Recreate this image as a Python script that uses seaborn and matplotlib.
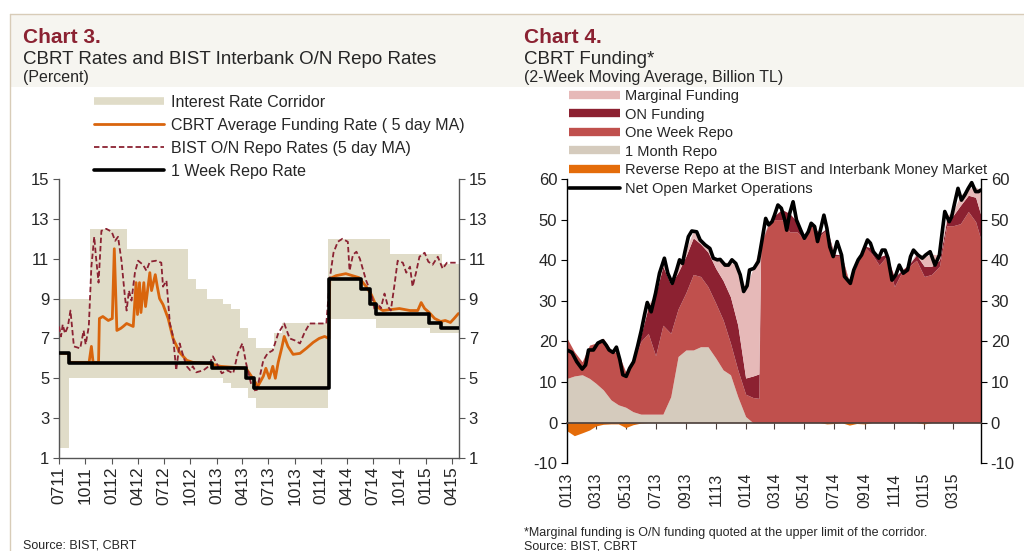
import matplotlib
matplotlib.use('Agg')
import matplotlib.pyplot as plt
import matplotlib.dates as mdates
from matplotlib.lines import Line2D
from matplotlib.patches import Rectangle
import seaborn as sns
import pandas as pd

sns.set_theme(style='white')
plt.rcParams['font.family'] = ['Liberation Sans', 'DejaVu Sans']
plt.rcParams['axes.unicode_minus'] = False

# ---------------- Chart 3 data (percent) ----------------
corr_dates = ['2011-07-01', '2011-08-05', '2011-10-16', '2012-02-24', '2012-09-24', '2012-10-22',
              '2012-11-28', '2013-01-23', '2013-02-22', '2013-03-22', '2013-04-19', '2013-05-19',
              '2013-07-22', '2013-08-16', '2014-01-25', '2014-07-13', '2014-08-28', '2015-01-16',
              '2015-02-28', '2015-04-27']
corr_upper = [9.0, 9.0, 12.5, 11.5, 10.0, 9.5, 9.0, 8.75, 8.5, 7.5, 7.0, 6.5, 7.25, 7.75,
              12.0, 12.0, 11.25, 11.25, 10.75, 10.75]
corr_lower = [1.5, 5.0, 5.0, 5.0, 5.0, 5.0, 5.0, 4.75, 4.5, 4.5, 4.0, 3.5, 3.5, 3.5,
              8.0, 7.5, 7.5, 7.25, 7.25, 7.25]

repo_dates = ['2011-07-01', '2011-08-05', '2012-12-16', '2013-04-14', '2013-05-13', '2014-01-28',
              '2014-05-19', '2014-06-19', '2014-07-13', '2015-01-13', '2015-02-22', '2015-04-27']
repo_rate = [6.25, 5.75, 5.5, 5.0, 4.5, 10.0, 9.5, 8.75, 8.25, 7.75, 7.5, 7.5]

fund_dates = ['2011-07-01', '2011-08-04', '2011-08-06', '2011-10-14', '2011-10-22', '2011-10-28',
              '2011-11-16', '2011-11-19', '2011-12-01', '2011-12-20', '2012-01-03', '2012-01-10',
              '2012-01-19', '2012-02-01', '2012-02-10', '2012-02-22', '2012-03-16', '2012-03-26',
              '2012-03-31', '2012-04-07', '2012-04-12', '2012-04-22', '2012-04-28', '2012-05-13',
              '2012-05-19', '2012-06-01', '2012-06-08', '2012-06-16', '2012-06-28', '2012-07-16',
              '2012-08-02', '2012-08-25', '2012-09-19', '2012-10-10', '2012-11-28', '2012-12-19',
              '2013-01-15', '2013-04-14', '2013-05-07', '2013-05-25', '2013-06-13', '2013-06-22',
              '2013-07-04', '2013-07-16', '2013-07-25', '2013-08-04', '2013-08-16', '2013-08-25',
              '2013-09-07', '2013-09-25', '2013-10-19', '2013-11-10', '2013-12-04', '2013-12-25',
              '2014-01-13', '2014-01-28', '2014-01-31', '2014-02-22', '2014-03-28', '2014-05-13',
              '2014-06-07', '2014-06-25', '2014-07-13', '2014-08-04', '2014-10-01', '2014-11-07',
              '2014-12-04', '2014-12-16', '2014-12-28', '2015-01-13', '2015-02-01', '2015-02-22',
              '2015-03-10', '2015-03-28', '2015-04-10', '2015-04-25']
fund_rate = [6.25, 6.25, 5.8, 5.8, 6.6, 5.8, 5.8, 8.0, 8.1, 7.9, 8.0, 11.5,
             7.4, 7.5, 7.6, 7.75, 7.6, 9.8, 8.2, 9.8, 8.3, 9.8, 8.6, 10.3,
             9.4, 10.2, 9.6, 9.0, 8.7, 8.0, 7.0, 6.3, 5.9, 5.8, 5.75, 5.7,
             5.6, 5.5, 5.0, 4.6, 5.1, 5.5, 5.0, 5.6, 5.0, 5.8, 6.5, 7.1,
             6.6, 6.2, 6.25, 6.5, 6.8, 7.0, 7.1, 7.0, 10.0, 10.15, 10.25, 10.05,
             9.6, 9.2, 8.6, 8.4, 8.5, 8.4, 8.4, 8.8, 8.5, 8.3, 8.0, 7.85,
             7.9, 7.8, 8.0, 8.25]

bist_dates = ['2011-07-01', '2011-07-08', '2011-07-14', '2011-07-22', '2011-08-01', '2011-08-10',
              '2011-08-22', '2011-09-13', '2011-09-25', '2011-10-02', '2011-10-13', '2011-10-22',
              '2011-11-01', '2011-11-07', '2011-11-16', '2011-11-26', '2011-12-13', '2012-01-01',
              '2012-01-13', '2012-01-23', '2012-02-04', '2012-02-16', '2012-02-22', '2012-03-01',
              '2012-03-10', '2012-03-22', '2012-04-02', '2012-04-19', '2012-05-01', '2012-05-13',
              '2012-06-04', '2012-06-22', '2012-06-28', '2012-07-10', '2012-07-22', '2012-08-02',
              '2012-08-13', '2012-08-25', '2012-09-07', '2012-09-19', '2012-10-01', '2012-10-10',
              '2012-10-22', '2012-11-16', '2012-12-04', '2012-12-19', '2013-01-01', '2013-01-19',
              '2013-02-07', '2013-02-28', '2013-03-16', '2013-04-01', '2013-04-14', '2013-05-01',
              '2013-05-19', '2013-06-01', '2013-06-13', '2013-06-28', '2013-07-16', '2013-08-04',
              '2013-08-25', '2013-09-13', '2013-10-01', '2013-10-19', '2013-11-04', '2013-11-22',
              '2014-01-19', '2014-02-01', '2014-02-13', '2014-02-28', '2014-03-16', '2014-04-04',
              '2014-04-10', '2014-04-22', '2014-05-04', '2014-05-16', '2014-05-28', '2014-06-07',
              '2014-06-25', '2014-07-07', '2014-07-19', '2014-07-28', '2014-08-10', '2014-08-22',
              '2014-09-01', '2014-09-13', '2014-09-25', '2014-10-13', '2014-10-25', '2014-11-07',
              '2014-11-16', '2014-11-28', '2014-12-10', '2014-12-28', '2015-01-10', '2015-01-25',
              '2015-02-12', '2015-03-01', '2015-03-16', '2015-04-25']
bist_rate = [7.6, 7.1, 7.7, 7.25, 7.6, 8.4, 6.6, 6.5, 7.4, 6.7, 7.6, 10.6,
             12.1, 11.1, 9.8, 12.4, 12.5, 12.35, 11.9, 12.1, 10.9, 9.1, 8.4, 9.4,
             8.9, 10.3, 10.9, 10.7, 10.4, 10.85, 10.9, 10.8, 9.6, 9.9, 7.75, 7.1,
             5.4, 6.75, 6.1, 5.6, 5.4, 5.6, 5.3, 5.4, 5.6, 6.1, 5.75, 5.25,
             5.4, 5.25, 6.25, 6.75, 5.75, 4.75, 4.3, 5.1, 5.9, 6.25, 6.4, 7.25,
             7.75, 7.0, 6.9, 6.75, 7.3, 7.75, 7.75, 10.1, 11.3, 11.85, 12.0, 11.85,
             10.4, 11.2, 11.35, 11.0, 10.4, 9.9, 9.25, 8.4, 8.75, 8.5, 9.25, 8.6,
             8.4, 9.6, 10.9, 10.8, 10.3, 10.6, 9.6, 10.3, 11.1, 11.3, 10.85, 10.7,
             11.1, 10.5, 10.8, 10.8]

# ---------------- Chart 4 data (billion TL) ----------------
fund4_dates = ['2013-01-01', '2013-01-16', '2013-02-01', '2013-02-16', '2013-03-01', '2013-03-16',
               '2013-04-01', '2013-04-16', '2013-05-01', '2013-05-16', '2013-06-01', '2013-06-16',
               '2013-07-01', '2013-07-16', '2013-08-01', '2013-08-16', '2013-09-01', '2013-09-16',
               '2013-10-01', '2013-10-16', '2013-11-01', '2013-11-16', '2013-12-01', '2013-12-16',
               '2014-01-01', '2014-01-16', '2014-01-28', '2014-02-01', '2014-02-16', '2014-03-01',
               '2014-03-16', '2014-04-01', '2014-04-16', '2014-05-01', '2014-05-16', '2014-06-01',
               '2014-06-16', '2014-07-01', '2014-07-16', '2014-08-01', '2014-08-16', '2014-09-01',
               '2014-09-16', '2014-10-01', '2014-10-16', '2014-11-01', '2014-11-16', '2014-12-01',
               '2014-12-16', '2015-01-01', '2015-01-16', '2015-02-01', '2015-02-16', '2015-03-01',
               '2015-03-16', '2015-04-01', '2015-04-16', '2015-04-27']
month_repo = [10.9, 11.5, 11.8, 10.9, 9.7, 8.1, 5.6, 4.4, 3.8, 2.7, 2.1, 2.1,
              2.1, 2.1, 6.4, 16.3, 17.9, 17.9, 18.7, 18.7, 15.9, 13.0, 11.8, 6.4,
              1.5, 0, 0, 0, 0, 0, 0, 0, 0, 0, 0, 0,
              0, 0, 0, 0, 0, 0, 0, 0, 0, 0, 0, 0,
              0, 0, 0, 0, 0, 0, 0, 0, 0, 0]
week_repo = [9.9, 6.0, 3.2, 8.2, 9.9, 12.7, 12.3, 12.6, 8.7, 12.3, 17.9, 19.9,
             14.4, 21.9, 15.6, 11.7, 14.1, 18.6, 17.3, 14.8, 13.5, 12.3, 7.8, 6.6,
             5.5, 6.2, 6.0, 44.0, 48.5, 50.0, 50.0, 47.0, 47.0, 45.0, 48.5, 46.0,
             47.5, 41.0, 41.0, 34.3, 38.8, 43.3, 41.5, 38.8, 41.0, 33.5, 37.0, 38.5,
             40.0, 36.0, 36.5, 38.5, 48.5, 48.5, 49.0, 52.0, 49.5, 45.0]
on_funding = [0, 0, 0, 0, 0, 0, 0, 0, 0, 0, 1.5, 6.5,
              15.0, 14.5, 12.0, 9.0, 9.0, 9.0, 8.0, 8.5, 8.6, 9.7, 11.4, 11.0,
              4.0, 5.3, 6.0, 0.3, 0.3, 1.0, 2.5, 4.5, 2.5, 0.4, 0.5, 0.5,
              0.4, 0.5, 0.3, 0.2, 0.2, 0.2, 1.5, 2.0, 0.5, 2.3, 0.5, 0.5,
              1.3, 2.5, 2.0, 1.5, 1.5, 2.5, 4.5, 4.0, 6.0, 6.0]
marginal = [0, 0, 0, 0, 0, 0, 0, 0, 0, 0, 0.5, 0.5,
            0.4, 1.0, 1.0, 2.0, 1.5, 1.7, 1.0, 1.2, 2.2, 4.5, 8.5, 14.5,
            22.0, 26.5, 30.5, 0.3, 0.2, 0.1, 0, 0, 0, 0, 0, 0,
            0, 0, 0, 0, 0, 0, 0, 0, 0, 0, 0, 0,
            0.5, 2.4, 3.0, 1.3, 1.0, 1.0, 2.5, 1.7, 2.5, 6.3]
rev_repo = [-2.0, -3.2, -2.5, -1.8, -0.8, -0.4, -0.3, -0.3, -1.2, -0.5, -0.1, 0,
            0, 0, 0, 0, 0, 0, 0, 0, 0, 0, 0, 0,
            0, 0, 0, 0, 0, 0, 0, 0, 0, 0, 0, 0,
            -0.3, -0.2, 0, -0.6, -0.2, -0.3, 0, 0, 0, 0, 0, 0,
            0, -0.3, 0, 0, 0, 0, 0, 0, 0, 0]

omo_dates = ['2013-01-01', '2013-01-11', '2013-01-21', '2013-02-01', '2013-02-08', '2013-02-14',
             '2013-02-24', '2013-03-05', '2013-03-15', '2013-03-22', '2013-03-28', '2013-04-05',
             '2013-04-12', '2013-04-19', '2013-04-25', '2013-05-02', '2013-05-09', '2013-05-17',
             '2013-05-25', '2013-06-02', '2013-06-09', '2013-06-14', '2013-06-22', '2013-07-01',
             '2013-07-09', '2013-07-19', '2013-07-26', '2013-08-04', '2013-08-13', '2013-08-19',
             '2013-08-25', '2013-08-30', '2013-09-06', '2013-09-13', '2013-09-23', '2013-09-30',
             '2013-10-10', '2013-10-20', '2013-10-27', '2013-11-04', '2013-11-10', '2013-11-20',
             '2013-11-27', '2013-12-04', '2013-12-12', '2013-12-21', '2013-12-28', '2014-01-04',
             '2014-01-09', '2014-01-18', '2014-01-27', '2014-02-03', '2014-02-11', '2014-02-17',
             '2014-02-24', '2014-03-01', '2014-03-08', '2014-03-15', '2014-03-22', '2014-03-26',
             '2014-04-01', '2014-04-08', '2014-04-15', '2014-04-25', '2014-05-01', '2014-05-09',
             '2014-05-15', '2014-05-22', '2014-05-28', '2014-06-02', '2014-06-10', '2014-06-16',
             '2014-06-22', '2014-06-29', '2014-07-07', '2014-07-16', '2014-07-22', '2014-08-03',
             '2014-08-10', '2014-08-19', '2014-08-26', '2014-09-07', '2014-09-13', '2014-09-19',
             '2014-09-30', '2014-10-07', '2014-10-13', '2014-10-19', '2014-10-27', '2014-11-04',
             '2014-11-11', '2014-11-19', '2014-11-28', '2014-12-04', '2014-12-10', '2014-12-19',
             '2014-12-28', '2015-01-04', '2015-01-13', '2015-01-23', '2015-02-01', '2015-02-06',
             '2015-02-12', '2015-02-21', '2015-02-26', '2015-03-04', '2015-03-11', '2015-03-18',
             '2015-03-25', '2015-04-01', '2015-04-08', '2015-04-16', '2015-04-22', '2015-04-27']
net_omo = [17.9, 17.3, 15.0, 13.2, 14.2, 17.9, 17.9, 19.6, 20.2, 19.1, 17.9, 17.3,
           18.6, 15.5, 11.8, 11.4, 13.4, 15.0, 18.7, 22.8, 26.9, 29.6, 27.3, 31.9,
           36.8, 40.5, 36.8, 34.3, 37.6, 40.1, 39.2, 42.1, 45.8, 47.2, 47.0, 45.0,
           43.8, 42.9, 40.5, 40.1, 40.2, 38.8, 38.8, 40.1, 39.2, 36.4, 32.3, 33.7,
           37.6, 38.0, 39.7, 44.6, 50.3, 48.7, 49.5, 51.1, 53.6, 52.8, 49.9, 47.4,
           51.5, 54.4, 49.9, 47.0, 45.4, 47.0, 49.1, 48.3, 44.6, 47.0, 51.1, 47.9,
           43.3, 40.9, 44.6, 41.3, 36.0, 34.3, 37.6, 40.1, 41.3, 45.0, 44.2, 42.1,
           40.5, 42.5, 42.5, 40.5, 35.1, 36.4, 38.8, 36.8, 37.6, 40.9, 42.5, 41.3,
           40.5, 41.3, 42.1, 38.8, 41.3, 46.2, 52.0, 49.5, 50.7, 54.0, 57.7, 54.8,
           56.1, 57.7, 59.1, 56.9, 56.9, 57.3]

# colours
c_corr = '#e0dcc8'
c_fund = '#d9650d'
c_bist = '#8b2232'
c_marg = '#e6b9b8'
c_on = '#8c2131'
c_week = '#c0504d'
c_month = '#d5cbbd'
c_rev = '#e46c0a'
c_head = '#8b2232'

W, H = 1024, 551
fig = plt.figure(figsize=(W / 100, H / 100), dpi=100)
fig.patch.set_facecolor('white')


def fx(px):
    return px / W


def fy(py):
    return 1 - py / H


# header band and frame lines
fig.add_artist(Rectangle((fx(10), fy(87)), fx(1014), (87 - 14) / H, transform=fig.transFigure,
                         facecolor='#f6f5f0', edgecolor='none', zorder=0))
fig.add_artist(Line2D([fx(9.5), 1], [fy(14), fy(14)], transform=fig.transFigure, color='#d8ccb8', lw=1))
fig.add_artist(Line2D([fx(9.5), fx(9.5)], [fy(14), 0], transform=fig.transFigure, color='#d8ccb8', lw=1))

fig.text(fx(23), fy(43), 'Chart 3.', fontsize=15, fontweight='bold', color=c_head, va='baseline')
fig.text(fx(23), fy(64), 'CBRT Rates and BIST Interbank O/N Repo Rates', fontsize=13.5, va='baseline')
fig.text(fx(23), fy(82), '(Percent)', fontsize=11.5, va='baseline')
fig.text(fx(524), fy(43), 'Chart 4.', fontsize=15, fontweight='bold', color=c_head, va='baseline')
fig.text(fx(524), fy(64), 'CBRT Funding*', fontsize=13.5, va='baseline')
fig.text(fx(524), fy(82), '(2-Week Moving Average, Billion TL)', fontsize=11.5, va='baseline')

fig.text(fx(23), fy(540), 'Source: BIST, CBRT', fontsize=9, va='top')
fig.text(fx(524), fy(536), '*Marginal funding is O/N funding quoted at the upper limit of the corridor.',
         fontsize=9, va='baseline')
fig.text(fx(524), fy(540.5), 'Source: BIST, CBRT', fontsize=9, va='top')

# ---------------- Chart 3 ----------------
ax1 = fig.add_axes([fx(59), fy(458), 400 / W, 279 / H])
ax1.fill_between(pd.to_datetime(corr_dates), corr_lower, corr_upper, step='post',
                 color=c_corr, lw=0, zorder=1)
sns.lineplot(x=pd.to_datetime(fund_dates), y=fund_rate, ax=ax1, color=c_fund, lw=2.0, zorder=2)
sns.lineplot(x=pd.to_datetime(bist_dates), y=bist_rate, ax=ax1, color=c_bist, lw=1.3,
             linestyle=(0, (3, 1.6)), zorder=3)
sns.lineplot(x=pd.to_datetime(repo_dates), y=repo_rate, ax=ax1, color='black', lw=2.6,
             drawstyle='steps-post', zorder=4)

ax1.set_xlim(pd.Timestamp('2011-07-01'), pd.Timestamp('2015-04-27'))
ax1.set_ylim(1, 15)
ax1.set_yticks(range(1, 16, 2))
ax1.xaxis.set_major_locator(mdates.MonthLocator(bymonth=[1, 4, 7, 10]))
ax1.xaxis.set_major_formatter(mdates.DateFormatter('%m%y'))
ax1.tick_params(axis='y', left=True, right=True, labelleft=True, labelright=True,
                direction='out', length=4, width=0.8, color='#555555', labelsize=12, pad=3)
ax1.tick_params(axis='x', bottom=True, direction='out', length=4, width=0.8, color='#555555',
                labelsize=12.5, labelrotation=90, pad=2)
ax1.spines['top'].set_visible(False)
for s in ['left', 'right', 'bottom']:
    ax1.spines[s].set_color('#555555')
    ax1.spines[s].set_linewidth(1.0)
ax1.set_xlabel('')
ax1.set_ylabel('')
ax1.set_facecolor('white')

h1 = [Line2D([], [], color=c_corr, lw=5.5, solid_capstyle='butt'),
      Line2D([], [], color=c_fund, lw=2.0),
      Line2D([], [], color=c_bist, lw=1.3, linestyle=(0, (3, 1.6))),
      Line2D([], [], color='black', lw=2.6)]
l1 = ['Interest Rate Corridor', 'CBRT Average Funding Rate ( 5 day MA)',
      'BIST O/N Repo Rates (5 day MA)', '1 Week Repo Rate']
fig.legend(h1, l1, loc='upper left', bbox_to_anchor=(fx(94), fy(95)), frameon=False,
           fontsize=11.5, borderpad=0, borderaxespad=0, handlelength=4.4,
           handletextpad=0.45, labelspacing=0.5)

# ---------------- Chart 4 ----------------
ax2 = fig.add_axes([fx(567), fy(463.3), 414 / W, 284.3 / H])
x4 = pd.to_datetime(fund4_dates)
ax2.stackplot(x4, month_repo, week_repo, on_funding, marginal,
              colors=[c_month, c_week, c_on, c_marg], lw=0, zorder=1)
ax2.fill_between(x4, rev_repo, 0, color=c_rev, lw=0, zorder=2)
sns.lineplot(x=pd.to_datetime(omo_dates), y=net_omo, ax=ax2, color='black', lw=2.6, zorder=4)

ax2.set_xlim(pd.Timestamp('2013-01-01'), pd.Timestamp('2015-04-27'))
ax2.set_ylim(-10, 60)
ax2.set_yticks(range(-10, 61, 10))
ax2.xaxis.set_major_locator(mdates.MonthLocator(bymonth=[1, 3, 5, 7, 9, 11]))
ax2.xaxis.set_major_formatter(mdates.DateFormatter('%m%y'))
ax2.spines['bottom'].set_position(('data', 0))
ax2.spines['bottom'].set_color('#4a3e3a')
ax2.spines['bottom'].set_linewidth(1.2)
ax2.spines['bottom'].set_zorder(5)
ax2.spines['top'].set_visible(False)
for s in ['left', 'right']:
    ax2.spines[s].set_color('black')
    ax2.spines[s].set_linewidth(1.0)
ax2.tick_params(axis='y', left=True, right=True, labelleft=True, labelright=True,
                direction='out', length=4, width=0.8, color='black', labelsize=12, pad=3)
ax2.tick_params(axis='x', bottom=True, direction='out', length=4, width=0.8, color='#4a3e3a',
                labelsize=11.5, labelrotation=90, pad=32)
ax2.set_xlabel('')
ax2.set_ylabel('')
ax2.set_facecolor('none')

h2 = [Line2D([], [], color=c_marg, lw=6, solid_capstyle='butt'),
      Line2D([], [], color=c_on, lw=6, solid_capstyle='butt'),
      Line2D([], [], color=c_week, lw=6, solid_capstyle='butt'),
      Line2D([], [], color=c_month, lw=6, solid_capstyle='butt'),
      Line2D([], [], color=c_rev, lw=6, solid_capstyle='butt'),
      Line2D([], [], color='black', lw=2.6)]
l2 = ['Marginal Funding', 'ON Funding', 'One Week Repo', '1 Month Repo',
      'Reverse Repo at the BIST and Interbank Money Market', 'Net Open Market Operations']
fig.legend(h2, l2, loc='upper left', bbox_to_anchor=(fx(569), fy(89)), frameon=False,
           fontsize=10.5, borderpad=0, borderaxespad=0, handlelength=3.5,
           handletextpad=0.35, labelspacing=0.31)

fig.savefig('out.png', dpi=100)
